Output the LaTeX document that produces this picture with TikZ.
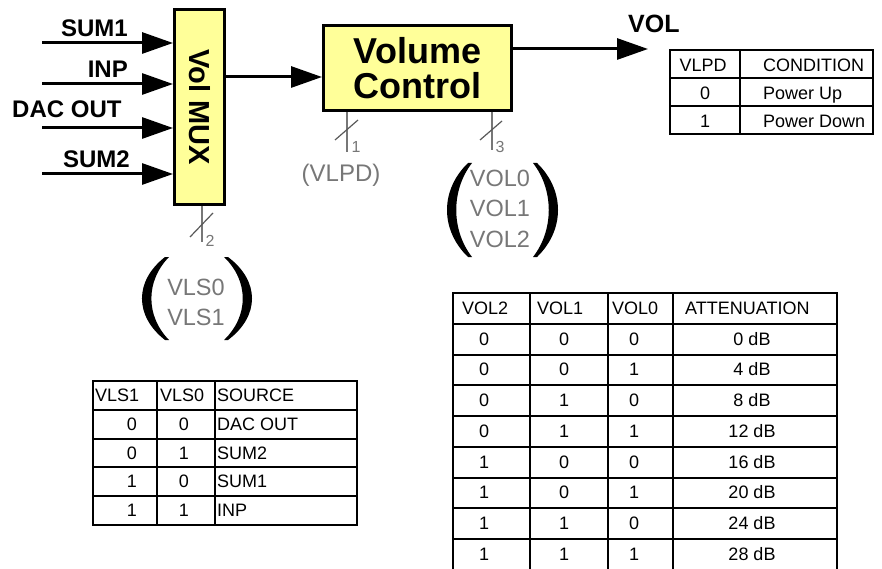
\documentclass[tikz,border=0pt]{standalone}
\usepackage{fontspec}
\setmainfont{Liberation Sans}
\usetikzlibrary{arrows.meta,positioning,calc}
\definecolor{boxyellow}{HTML}{FFFF99}
\definecolor{labelgray}{HTML}{777777}
\newcommand\setpx[2]{\fontsize{#1}{#2}\selectfont}
\tikzset{blockbox/.style={draw=black,line width=3pt,fill=boxyellow,inner sep=0pt},
  sig/.style={-{Triangle[length=31pt,width=21pt]},line width=3pt},
  inlabel/.style={font=\bfseries\setpx{24}{24},inner sep=0pt},
  ctrltext/.style={font=\setpx{23.5}{30},text=labelgray,inner sep=0pt},
  busline/.style={draw=labelgray,line width=2pt},
  busslash/.style={draw=gray!70!black,line width=1.2pt},
  buswidth/.style={font=\setpx{16}{16},text=labelgray,inner sep=0pt},
  paren/.style={fill=black},
  tgrid/.style={line width=2pt},
  cell/.style={font=\setpx{18}{18},inner sep=0pt}}

\begin{document}
\begin{tikzpicture}[x=1pt,y=-1pt]
 \useasboundingbox (0,0) rectangle (882,569);
 % blocks
 \node[blockbox,minimum width=50pt,minimum height=195pt] (mux) at (199.5,107)
  {\rotatebox{-90}{\bfseries\setpx{29}{29}Vol MUX}};
 \node[blockbox,minimum width=188pt,minimum height=85pt,align=center,
  font=\bfseries\setpx{36}{35}] (vc) at (417.5,68) {Volume\\Control};
 % inputs
 \foreach \nm/\yy in {sum1/43,inp/84,dac/128,sum2/174}{
  \coordinate (\nm) at (42,\yy);
  \draw[sig] (\nm) -- (\nm -| mux.west);
 }
 \node[inlabel,anchor=base east] (sum1lbl) at (128,37) {SUM1};
 \node[inlabel,anchor=base east] (inplbl) at (128,78) {INP};
 \node[inlabel,anchor=base west] (daclbl) at (12,118) {DAC OUT};
 \node[inlabel,anchor=base east] (sum2lbl) at (130,168) {SUM2};
 % mux -> volume control -> VOL
 \coordinate (muxy) at (0,77);
 \coordinate (muxout) at (mux.east |- muxy);
 \draw[sig] (muxout) -- (muxout -| vc.west);
 \coordinate (volout) at (648,49);
 \draw[sig] (volout -| vc.east) -- (volout);
 \node[font=\bfseries\setpx{25}{25},inner sep=0pt,anchor=base west] (vollbl) at (628,33) {VOL};
 % control buses
 \coordinate (vlpdbus) at (347,112);
 \draw[busline] (vlpdbus) -- ++(0,40);
 \draw[busslash] ($(vlpdbus)+(-12,28)$) -- ++(23,-20);
 \node[buswidth] (vlpdw) at (356,147) {1};
 \node[ctrltext,font=\setpx{24}{24},anchor=base] (vlpdlbl) at (341,182) {(VLPD)};
 \coordinate (volbus) at (492,112);
 \draw[busline] (volbus) -- ++(0,38);
 \draw[busslash] ($(volbus)+(-12,28)$) -- ++(22,-19);
 \node[buswidth] (volw) at (500,147) {3};
 \foreach \nm [count=\k from 0] in {VOL0,VOL1,VOL2}
  \node[ctrltext,anchor=base] (vol\k) at (500,{187+30*\k}) {\nm};
 \coordinate (vlsbus) at (202,206);
 \draw[busline] (vlsbus) -- ++(0,36);
 \draw[busslash] ($(vlsbus)+(-12,31)$) -- ++(23,-24);
 \node[buswidth] (vlsw) at (210,241) {2};
 \foreach \nm [count=\k from 0] in {VLS0,VLS1}
  \node[ctrltext,anchor=base] (vls\k) at (196,{295+30*\k}) {\nm};
 % big parentheses
 \fill[paren] (468,163) .. controls (440,190) and (440,230) .. (468,257)
  -- (472,257) .. controls (451,230) and (451,190) .. (472,163) -- cycle;
 \fill[paren] (537,163) .. controls (565,190) and (565,230) .. (537,257)
  -- (533,257) .. controls (554,230) and (554,190) .. (533,163) -- cycle;
 \fill[paren] (165,257) .. controls (134.3,281) and (134.3,316) .. (165,340)
  -- (169,340) .. controls (145.5,316) and (145.5,281) .. (169,257) -- cycle;
 \fill[paren] (228,257) .. controls (260,281) and (260,316) .. (228,340)
  -- (224,340) .. controls (249,316) and (249,281) .. (224,257) -- cycle;
 % VLPD table
 \draw[tgrid] (670,50) rectangle (873,134);
 \draw[tgrid] (740,50) -- (740,134);
 \foreach \yy in {78,106} \draw[tgrid] (670,\yy) -- (873,\yy);
 \node[cell,anchor=base] (pdh1) at (703,72) {VLPD};
 \node[cell,anchor=base west] (pdh2) at (763,72) {CONDITION};
 \foreach \v/\cond [count=\k] in {0/Power Up,1/Power Down}{
  \node[cell,anchor=base] (pd\k a) at (705,{72+28*\k}) {\v};
  \node[cell,anchor=base west] (pd\k b) at (763,{72+28*\k}) {\cond};
 }
 % VLS table
 \draw[tgrid] (93,381) rectangle (357,525);
 \foreach \xx in {157,215} \draw[tgrid] (\xx,381) -- (\xx,525);
 \foreach \k in {1,...,4} \draw[tgrid] (93,{381+28.8*\k}) -- (357,{381+28.8*\k});
 \node[cell,anchor=base west] (vlsh1) at (95,401.4) {VLS1};
 \node[cell,anchor=base west] (vlsh2) at (160,401.4) {VLS0};
 \node[cell,anchor=base west] (vlsh3) at (217,401.4) {SOURCE};
 \foreach \a/\b/\src [count=\k] in {0/0/DAC OUT,0/1/SUM2,1/0/SUM1,1/1/INP}{
  \node[cell,anchor=base] (vls\k a) at (132,{381+28.8*(\k+0.5)+6}) {\a};
  \node[cell,anchor=base] (vls\k b) at (184,{381+28.8*(\k+0.5)+6}) {\b};
  \node[cell,anchor=base west] (vls\k c) at (217,{381+28.8*(\k+0.5)+6}) {\src};
 }
 % VOL table
 \draw[tgrid] (453,293) rectangle (837,569.75);
 \foreach \xx in {530,608,673} \draw[tgrid] (\xx,293) -- (\xx,569.75);
 \foreach \k in {1,...,8} \draw[tgrid] (453,{293+30.75*\k}) -- (837,{293+30.75*\k});
 \node[cell,anchor=base west] (vth1) at (462,314.4) {VOL2};
 \node[cell,anchor=base west] (vth2) at (537,314.4) {VOL1};
 \node[cell,anchor=base west] (vth3) at (612,314.4) {VOL0};
 \node[cell,anchor=base west] (vth4) at (685,314.4) {ATTENUATION};
 \foreach \a/\b/\c/\att [count=\k] in {0/0/0/0,0/0/1/4,0/1/0/8,0/1/1/12,
   1/0/0/16,1/0/1/20,1/1/0/24,1/1/1/28}{
  \node[cell,anchor=base] (vt\k a) at (484,{293+30.75*(\k+0.5)+6}) {\a};
  \node[cell,anchor=base] (vt\k b) at (564,{293+30.75*(\k+0.5)+6}) {\b};
  \node[cell,anchor=base] (vt\k c) at (634,{293+30.75*(\k+0.5)+6}) {\c};
  \node[cell,anchor=base] (vt\k d) at (752,{293+30.75*(\k+0.5)+6}) {\att{} dB};
 }
\end{tikzpicture}
\end{document}
